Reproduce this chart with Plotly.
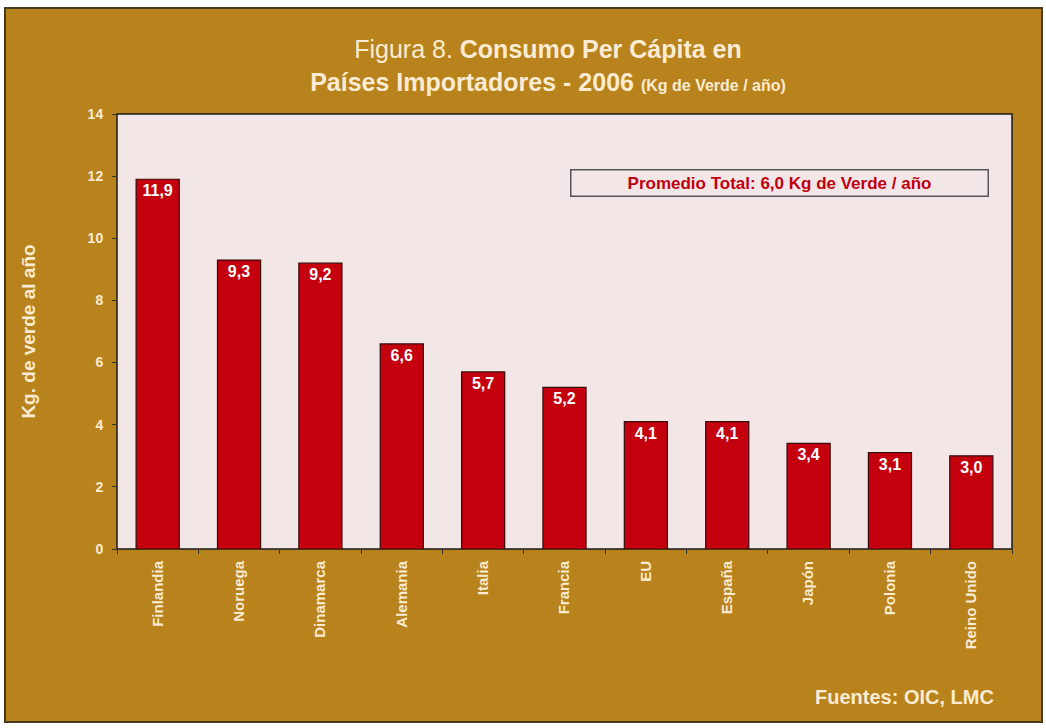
import plotly.graph_objects as go

paises = ["Finlandia", "Noruega", "Dinamarca", "Alemania", "Italia", "Francia",
          "EU", "España", "Japón", "Polonia", "Reino Unido"]
consumo = [11.9, 9.3, 9.2, 6.6, 5.7, 5.2, 4.1, 4.1, 3.4, 3.1, 3.0]
etiquetas = ["11,9", "9,3", "9,2", "6,6", "5,7", "5,2", "4,1", "4,1", "3,4", "3,1", "3,0"]
y_ticks = [0, 2, 4, 6, 8, 10, 12, 14]

GOLD = "#B8821C"
CREAM = "#FAEBD2"
PLOTBG = "#F3E6E6"
RED = "#C4000E"
FONT = "Liberation Sans, Arial, sans-serif"
NARROW = "Liberation Sans Narrow, Liberation Sans, Arial, sans-serif"

W, H = 1046, 728
L, R, T, B = 117, 34, 114, 179
pw, ph = W - L - R, H - T - B


def px(x):
    return (x - L) / pw


def py(y):
    return (H - B - y) / ph


fig = go.Figure()
fig.add_trace(go.Bar(
    x=paises, y=consumo, text=etiquetas,
    textposition="inside", insidetextanchor="end", textangle=0,
    constraintext="none",
    textfont=dict(family=FONT, size=16, color="white", weight="bold"),
    marker=dict(color=RED, line=dict(color="#3A0A0A", width=1.2)),
    hoverinfo="skip",
))

fig.update_layout(
    width=W, height=H,
    margin=dict(l=L, r=R, t=T, b=B),
    paper_bgcolor="white",
    plot_bgcolor=PLOTBG,
    bargap=0.47,
    showlegend=False,
    font=dict(family=FONT, color=CREAM),
    title=dict(
        text="Figura 8. <b>Consumo Per Cápita en</b><br><b>Países Importadores - 2006</b> "
             "<b><span style='font-size:16px'>(Kg de Verde / año)</span></b>",
        x=px(548), xanchor="center", xref="paper",
        y=1 - 58 / H, yanchor="middle",
        font=dict(family=NARROW, size=25, color=CREAM),
    ),
    shapes=[
        dict(type="rect", xref="paper", yref="paper",
             x0=px(5), x1=px(1042), y0=py(722), y1=py(8),
             fillcolor=GOLD, line=dict(color="#4A3A20", width=2), layer="below"),
        dict(type="rect", xref="paper", yref="paper",
             x0=0, x1=1, y0=0, y1=1,
             fillcolor=PLOTBG, line=dict(color="#1A1A1A", width=1.5), layer="below"),
    ],
    annotations=[
        dict(text="<b>Promedio Total: 6,0 Kg de Verde / año</b>",
             xref="paper", yref="paper", x=px(779), y=py(183),
             xanchor="center", yanchor="middle", showarrow=False,
             font=dict(family=FONT, size=17, color="#C00010"),
             bordercolor="#555555", borderwidth=1.5, borderpad=3,
             width=410, bgcolor=PLOTBG),
        dict(text="<b>Fuentes: OIC, LMC</b>",
             xref="paper", yref="paper", x=px(996), y=py(697),
             xanchor="right", yanchor="middle", showarrow=False,
             font=dict(family=FONT, size=20, color=CREAM)),
    ],
)

fig.update_xaxes(
    type="category", tickangle=-90, tickson="boundaries",
    ticks="outside", ticklen=4, tickcolor="#333333",
    ticklabelstandoff=8,
    tickfont=dict(family=FONT, size=15, color=CREAM, weight="bold"),
    showgrid=False, showline=False, zeroline=False,
)
fig.update_yaxes(
    range=[0, 14], tickvals=y_ticks, ticktext=[str(v) for v in y_ticks],
    ticks="outside", ticklen=4, tickcolor="#333333",
    ticklabelstandoff=6,
    tickfont=dict(family=FONT, size=14, color=CREAM, weight="bold"),
    showgrid=False, showline=False, zeroline=False,
    title=dict(text="<b>Kg. de verde al año</b>", standoff=46,
               font=dict(family=FONT, size=19, color=CREAM)),
)

fig.write_html("out.html")
